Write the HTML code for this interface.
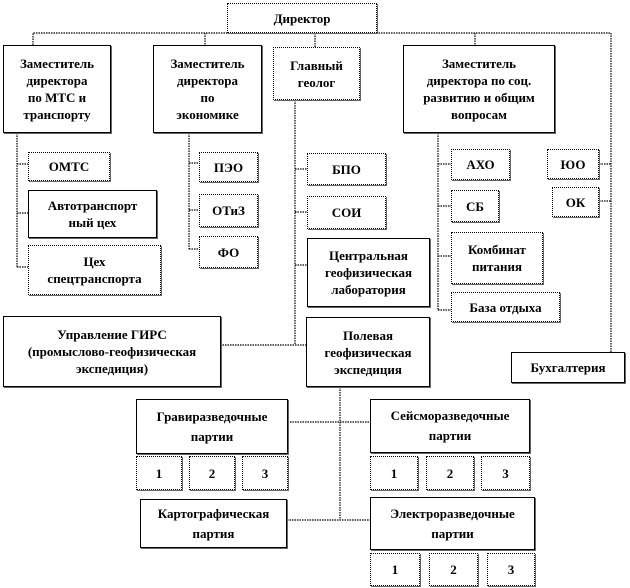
<!DOCTYPE html>
<html><head><meta charset="utf-8"><style>
body{margin:0;width:630px;height:588px;background:#fff;position:relative;overflow:hidden;font-family:"Liberation Serif",serif;font-weight:bold;font-size:13px;color:#000}
.b{position:absolute;box-sizing:border-box;border:1.3px solid #000;background:#fff;display:flex;align-items:center;justify-content:center;text-align:center;line-height:17px;box-shadow:1px 1px 0 #666}
.d{border:1.3px dotted #000}
svg{position:absolute;left:0;top:0}
</style></head><body>
<svg width="630" height="588">
<g stroke="#000" stroke-width="1.2" stroke-dasharray="1.5,1" fill="none">
<path d="M33,45 V33 H611 V352"/>
<path d="M205,33 V45 M315,33 V47 M475,33 V45"/>
<path d="M17,133 V267 M17,164 H28 M17,213 H28 M17,267 H28"/>
<path d="M189,133 V249 M189,163 H199 M189,210 H199 M189,249 H199"/>
<path d="M295,100 V345 M295,169 H307 M295,212 H307 M295,265 H307 M220,345 H306"/>
<path d="M438,133 V310 M438,164 H451 M438,206 H451 M438,256 H451 M438,310 H451"/>
<path d="M599,164 H611 M599,201 H611"/>
<path d="M340,387 V520 M290,422 H370 M287,520 H370"/>
</g></svg>
<div class="b d" style="left:227px;top:3px;width:150px;height:30px">Директор</div>
<div class="b" style="left:3px;top:45px;width:108px;height:88px">Заместитель<br>директора<br>по МТС и<br>транспорту</div>
<div class="b" style="left:153px;top:45px;width:109px;height:88px">Заместитель<br>директора<br>по<br>экономике</div>
<div class="b d" style="left:273px;top:47px;width:87px;height:53px">Главный<br>геолог</div>
<div class="b" style="left:403px;top:45px;width:152px;height:88px">Заместитель<br>директора по соц.<br>развитию и общим<br>вопросам</div>
<div class="b d" style="left:28px;top:152px;width:82px;height:29px">ОМТС</div>
<div class="b" style="left:28px;top:190px;width:129px;height:48px">Автотранспорт<br>ный цех</div>
<div class="b d" style="left:28px;top:245px;width:133px;height:50px">Цех<br>спецтранспорта</div>
<div class="b d" style="left:199px;top:152px;width:59px;height:30px">ПЭО</div>
<div class="b d" style="left:199px;top:194px;width:59px;height:33px">ОТиЗ</div>
<div class="b d" style="left:199px;top:236px;width:59px;height:32px">ФО</div>
<div class="b d" style="left:307px;top:153px;width:79px;height:32px">БПО</div>
<div class="b d" style="left:307px;top:196px;width:79px;height:33px">СОИ</div>
<div class="b" style="left:307px;top:238px;width:123px;height:69px">Центральная<br>геофизическая<br>лаборатория</div>
<div class="b" style="left:306px;top:317px;width:124px;height:70px">Полевая<br>геофизическая<br>экспедиция</div>
<div class="b d" style="left:451px;top:149px;width:59px;height:31px">АХО</div>
<div class="b d" style="left:451px;top:190px;width:48px;height:32px">СБ</div>
<div class="b d" style="left:451px;top:232px;width:92px;height:52px">Комбинат<br>питания</div>
<div class="b d" style="left:451px;top:292px;width:109px;height:30px">База отдыха</div>
<div class="b d" style="left:547px;top:149px;width:52px;height:30px">ЮО</div>
<div class="b d" style="left:552px;top:187px;width:47px;height:30px">ОК</div>
<div class="b" style="left:511px;top:352px;width:114px;height:31px">Бухгалтерия</div>
<div class="b" style="left:3px;top:316px;width:218px;height:71px">Управление ГИРС<br>(промыслово-геофизическая<br>экспедиция)</div>
<div class="b" style="left:136px;top:399px;width:152px;height:55px;line-height:20px">Гравиразведочные<br>партии</div>
<div class="b d" style="left:136px;top:456px;width:46px;height:34px">1</div>
<div class="b d" style="left:189px;top:456px;width:46px;height:34px">2</div>
<div class="b d" style="left:242px;top:456px;width:46px;height:34px">3</div>
<div class="b" style="left:370px;top:399px;width:160px;height:54px;line-height:20px">Сейсморазведочные<br>партии</div>
<div class="b d" style="left:370px;top:456px;width:48px;height:34px">1</div>
<div class="b d" style="left:426px;top:456px;width:48px;height:34px">2</div>
<div class="b d" style="left:481px;top:456px;width:49px;height:34px">3</div>
<div class="b" style="left:140px;top:499px;width:147px;height:49px;line-height:20px">Картографическая<br>партия</div>
<div class="b" style="left:370px;top:497px;width:165px;height:53px;line-height:20px">Электроразведочные<br>партии</div>
<div class="b d" style="left:370px;top:553px;width:50px;height:33px">1</div>
<div class="b d" style="left:429px;top:553px;width:49px;height:33px">2</div>
<div class="b d" style="left:487px;top:553px;width:48px;height:33px">3</div>
</body></html>
